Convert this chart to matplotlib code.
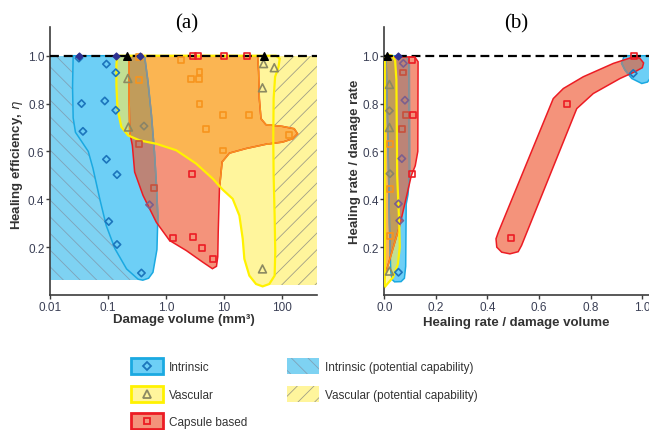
import numpy as np
import matplotlib.pyplot as plt
from matplotlib.patches import Polygon, Rectangle, Patch
from matplotlib.lines import Line2D
from matplotlib.path import Path
from matplotlib.legend_handler import HandlerLine2D

plt.rcParams['font.family'] = ['Liberation Sans', 'DejaVu Sans']
plt.rcParams['hatch.linewidth'] = 0.6

# ---------------- panel (a): damage volume (mm^3) vs healing efficiency
intr_a_x = [0.0251, 0.427, 0.490, 0.562, 0.631, 0.681, 0.724, 0.698, 0.596, 0.501, 0.398,
            0.331, 0.209, 0.132, 0.0933, 0.0724, 0.0550, 0.0457, 0.0355, 0.0275, 0.0251, 0.0245]
intr_a_y = [1.0, 1.0, 0.89, 0.75, 0.60, 0.47, 0.33, 0.19, 0.095, 0.07, 0.062,
            0.066, 0.109, 0.193, 0.29, 0.40, 0.53, 0.60, 0.64, 0.68, 0.74, 0.87]

caps_a_x = [0.231, 0.231, 0.237, 0.263, 0.288, 0.402, 0.681, 1.15, 2.23, 4.32, 6.31, 7.41, 7.80,
            7.94, 8.34, 9.27, 12.4, 23.9, 52.8, 102, 152, 185, 162, 100, 52.8, 43.4, 40.6, 39.5, 38.0]
caps_a_y = [1.0, 0.82, 0.68, 0.625, 0.514, 0.416, 0.304, 0.228, 0.186, 0.137, 0.11, 0.12, 0.16,
            0.262, 0.444, 0.556, 0.593, 0.612, 0.630, 0.639, 0.653, 0.674, 0.695, 0.705, 0.712,
            0.737, 0.821, 0.933, 1.0]

vasc_a_x = [0.1435, 0.1396, 0.1396, 0.1455, 0.170, 0.222, 0.352, 0.681, 1.50, 3.31, 6.40, 9.51,
            14.1, 18.4, 21.0, 22.4, 27.3, 35.6, 46.3, 60.3, 74.5, 76.4, 74.5, 71.6, 70.6, 71.6,
            75.9, 87.1, 91.2, 78.5]
vasc_a_y = [1.0, 0.961, 0.877, 0.779, 0.702, 0.667, 0.646, 0.632, 0.605, 0.549, 0.486, 0.440,
            0.402, 0.332, 0.235, 0.151, 0.081, 0.046, 0.036, 0.046, 0.081, 0.179, 0.332, 0.500,
            0.653, 0.821, 0.912, 0.954, 0.988, 1.0]

intr_pot_a = (0.01, 0.35, 0.063, 1.0)   # x0, x1, y0, y1
vasc_pot_a = (55, 400, 0.042, 1.0)

diam_a_x = [0.0315, 0.094, 0.136, 0.035, 0.088, 0.136, 0.037, 0.094, 0.143, 0.52, 0.103, 0.143, 0.377, 0.417]
diam_a_y = [0.99, 0.965, 0.929, 0.80, 0.811, 0.772, 0.684, 0.567, 0.503, 0.377, 0.307, 0.211, 0.092, 0.706]
sq_a_x = [0.34, 0.34, 0.34, 0.62, 1.83, 3.78, 2.72, 3.67, 3.78, 9.5, 26.6, 4.92, 9.5, 133, 2.83,
          1.31, 2.90, 4.2, 6.4]
sq_a_y = [0.995, 0.898, 0.632, 0.447, 0.981, 0.933, 0.902, 0.902, 0.800, 0.751, 0.751, 0.695,
          0.604, 0.670, 0.505, 0.237, 0.244, 0.196, 0.151]
tri_a_x = [0.22, 0.225, 48, 73.5, 46, 46]
tri_a_y = [0.905, 0.702, 0.967, 0.950, 0.866, 0.109]
top_diam_a = [0.0315, 0.136, 0.35]
top_tri_a = [0.215, 49]
top_sq_a = [2.9, 3.5, 10, 25]

# ---------------- panel (b): healing rate / damage volume vs healing rate / damage rate
intr_b_x = [0.005, 0.085, 0.097, 0.098, 0.092, 0.085, 0.083, 0.078, 0.065, 0.04, 0.03, 0.025, 0.02, 0.015, 0.008]
intr_b_y = [1.0, 1.0, 0.975, 0.5, 0.42, 0.38, 0.12, 0.07, 0.056, 0.055, 0.065, 0.1, 0.3, 0.6, 0.95]
blob_b_x = [0.93, 1.04, 1.04, 1.02, 0.998, 0.959, 0.933, 0.92]
blob_b_y = [1.0, 1.0, 0.92, 0.89, 0.884, 0.905, 0.94, 0.968]

vasc_b_x = [0.002, 0.002, 0.012, 0.03, 0.042, 0.047, 0.05, 0.058, 0.06, 0.053, 0.034, 0.015, 0.004]
vasc_b_y = [0.04, 0.99, 1.005, 1.0, 0.98, 0.9, 0.5, 0.3, 0.2, 0.13, 0.074, 0.05, 0.036]

caps_b_x = [0.002, 0.118, 0.131, 0.13, 0.12, 0.105, 0.06, 0.027, 0.008, 0.002]
caps_b_y = [0.995, 0.995, 0.975, 0.6, 0.54, 0.5, 0.29, 0.17, 0.1, 0.07]
band_b_x = [0.436, 0.433, 0.442, 0.655, 0.694, 0.771, 0.888, 0.965, 0.99, 1.005, 1.0, 0.975,
            0.914, 0.81, 0.746, 0.532, 0.519, 0.487, 0.455]
band_b_y = [0.20, 0.235, 0.262, 0.821, 0.863, 0.912, 0.968, 0.995, 0.99, 0.97, 0.95, 0.935,
            0.905, 0.842, 0.779, 0.207, 0.181, 0.172, 0.179]

diam_b_x = [0.074, 0.08, 0.068, 0.055, 0.06, 0.055, 0.965, 0.02, 0.022]
diam_b_y = [0.968, 0.814, 0.57, 0.381, 0.311, 0.095, 0.926, 0.77, 0.507]
sq_b_x = [0.071, 0.084, 0.11, 0.068, 0.106, 0.106, 0.49, 0.707, 0.022, 0.022, 0.022]
sq_b_y = [0.93, 0.754, 0.751, 0.695, 0.507, 0.984, 0.24, 0.80, 0.632, 0.444, 0.248]
tri_b_x = [0.02, 0.02, 0.02]
tri_b_y = [0.88, 0.70, 0.10]
top_diam_b = [0.055]
top_tri_b = [0.01]
top_sq_b = [0.967]

# colours
BLUE, BLUE_EDGE = '#6dcff6', '#1ba9e1'
YELLOW, YELLOW_EDGE = '#fff59c', '#fff200'
SALMON, RED_EDGE = '#f4937b', '#ec1c24'
ORANGE, ORANGE_EDGE = '#fbb552', '#f7941d'
GREEN = '#c2df93'
OVERLAY = '#3c6470'
DIAM_C, TRI_C = '#1c75bc', '#8c8a62'
HATCH_BLUE, HATCH_BLUE_LINE = '#7ed2f2', '#7fa3b8'
HATCH_YEL_LINE = '#a09f86'


def fill(ax, xs, ys, z, clip=None, **kw):
    p = Polygon(np.column_stack([xs, ys]), closed=True, zorder=z, **kw)
    ax.add_patch(p)
    if clip is not None:
        p.set_clip_path(clip)
    return p


def shape(ax, xs, ys):
    p = Polygon(np.column_stack([xs, ys]), closed=True)
    p.set_transform(ax.transData)
    return p


def rect_xy(r):
    x0, x1, y0, y1 = r
    return [x0, x1, x1, x0], [y0, y0, y1, y1]


def hit(px, py, regions, logx):
    pts = np.column_stack([np.log10(px) if logx else px, py])
    out = np.zeros(len(pts), bool)
    for xs, ys in regions:
        vx = np.log10(xs) if logx else np.asarray(xs)
        out |= Path(np.column_stack([vx, ys])).contains_points(pts)
    return out


def draw_regions(ax, blues, yellows, reds, yellow_extra=()):
    yclips = [shape(ax, *r) for r in list(yellows) + list(yellow_extra)]
    rclips = [shape(ax, *r) for r in reds]
    for b in blues:
        fill(ax, *b, z=2, fc=BLUE, lw=0)
    for y in yellows:
        fill(ax, *y, z=3, fc=YELLOW, lw=0)
    for b in blues:
        for c in yclips:
            fill(ax, *b, z=3.5, fc=GREEN, lw=0, clip=c)
    for r in reds:
        fill(ax, *r, z=4, fc=SALMON, lw=0)
        for c in yclips:
            fill(ax, *r, z=4.5, fc=ORANGE, lw=0, clip=c)
    for b in blues:
        for c in rclips:
            fill(ax, *b, z=5, fc=OVERLAY, alpha=0.3, lw=0, clip=c)
    for b in blues:
        fill(ax, *b, z=6, fill=False, ec=BLUE_EDGE, lw=1.1)
        for c in rclips:
            fill(ax, *b, z=6.1, fill=False, ec='#8f8f8f', lw=1.1, clip=c)
    for r in reds:
        fill(ax, *r, z=6.5, fill=False, ec=RED_EDGE, lw=1.1)
        for c in yclips:
            fill(ax, *r, z=6.6, fill=False, ec=ORANGE_EDGE, lw=1.1, clip=c)
    for y in yellows:
        fill(ax, *y, z=7, fill=False, ec=YELLOW_EDGE, lw=1.6)


def draw_markers(ax, dx, dy, sx, sy, tx, ty, blues, yellows, reds, logx):
    dx, dy, sx, sy = map(np.asarray, (dx, dy, sx, sy))
    dy_in = hit(dx, dy, yellows, logx)
    dr_in = hit(dx, dy, reds, logx)
    dcol = np.where(dy_in, '#8a8468', np.where(dr_in, '#7b5f8e', DIAM_C))
    sy_in = hit(sx, sy, yellows, logx)
    sb_in = hit(sx, sy, blues, logx)
    scol = np.where(sy_in, ORANGE_EDGE, np.where(sb_in, '#c8503c', RED_EDGE))
    ax.scatter(dx, dy, marker='D', s=14, facecolors='none', edgecolors=dcol, linewidths=1.2, zorder=9)
    ax.scatter(sx, sy, marker='s', s=18, facecolors='none', edgecolors=scol, linewidths=1.2, zorder=9)
    ax.scatter(tx, ty, marker='^', s=32, facecolors='none', edgecolors=TRI_C, linewidths=1.2, zorder=9)


def draw_top(ax, d, t, s):
    ax.scatter(d, [1.0] * len(d), marker='D', s=12, color='#2e3192', zorder=10)
    ax.scatter(t, [1.0] * len(t), marker='^', s=30, color='black', zorder=10)
    ax.scatter(s, [1.0] * len(s), marker='s', s=18, facecolors='none', edgecolors=RED_EDGE,
               linewidths=1.2, zorder=10)


def style(ax):
    for side in ['top', 'right']:
        ax.spines[side].set_visible(False)
    for side in ['left', 'bottom']:
        ax.spines[side].set_color('#3c3c3c')
        ax.spines[side].set_linewidth(1.2)
    ax.tick_params(direction='out', length=3, width=1, color='#3c3c3c',
                   labelcolor='#3a3f55', labelsize=8.5, pad=1)
    ax.set_ylim(0, 1.12)
    ax.set_yticks([0.2, 0.4, 0.6, 0.8, 1.0])
    ax.set_yticklabels(['0.2', '0.4', '0.6', '0.8', '1.0'])
    ax.axhline(1.0, color='black', lw=1.6, dashes=(4, 2.2), zorder=8)


class CenteredMarker(HandlerLine2D):
    # put the legend marker in the middle of the coloured box
    def create_artists(self, legend, orig_handle, xdescent, ydescent, width, height, fontsize, trans):
        arts = super().create_artists(legend, orig_handle, xdescent, ydescent,
                                      width, height, fontsize, trans)
        for a in arts:
            a.set_ydata(np.full(len(a.get_xdata()), height / 2 - ydescent))
        return arts


fig = plt.figure(figsize=(6.49, 4.31), dpi=100)
ax1 = fig.add_axes([0.0770, 0.3132, 0.4114, 0.6218])
ax2 = fig.add_axes([0.5921, 0.3132, 0.4079, 0.6218])

# ---- (a)
ax1.set_xscale('log')
ax1.set_xlim(0.01, 400)
style(ax1)
ax1.set_xticks([0.01, 0.1, 1, 10, 100])
ax1.set_xticklabels(['0.01', '0.1', '1.0', '10', '100'])
ax1.xaxis.set_minor_locator(plt.NullLocator())

x0, x1, y0, y1 = intr_pot_a
ax1.add_patch(Rectangle((x0, y0), x1 - x0, y1 - y0, fc=HATCH_BLUE, ec=HATCH_BLUE_LINE,
                        hatch='\\\\', lw=0, zorder=1))
x0, x1, y0, y1 = vasc_pot_a
ax1.add_patch(Rectangle((x0, y0), x1 - x0, y1 - y0, fc=YELLOW, ec=HATCH_YEL_LINE, hatch='//',
                        lw=0, zorder=1))

blues_a = [(intr_a_x, intr_a_y)]
yellows_a = [(vasc_a_x, vasc_a_y)]
reds_a = [(caps_a_x, caps_a_y)]
draw_regions(ax1, blues_a, yellows_a, reds_a, yellow_extra=[rect_xy(vasc_pot_a)])
draw_markers(ax1, diam_a_x, diam_a_y, sq_a_x, sq_a_y, tri_a_x, tri_a_y,
             blues_a, yellows_a + [rect_xy(vasc_pot_a)], reds_a, logx=True)
draw_top(ax1, top_diam_a, top_tri_a, top_sq_a)

ax1.set_xlabel('Damage volume (mm³)', fontsize=9.5, fontweight='bold', color='#333333')
ax1.set_ylabel('Healing efficiency, $\\eta$', fontsize=9.5, fontweight='bold', color='#333333')
ax1.xaxis.set_label_coords(0.5, -0.066)
ax1.yaxis.set_label_coords(-0.092, 0.489)

# ---- (b)
ax2.set_xlim(0, 1.026)
style(ax2)
ax2.set_xticks([0, 0.2, 0.4, 0.6, 0.8, 1.0])
ax2.set_xticklabels(['0.0', '0.2', '0.4', '0.6', '0.8', '1.0'])

blues_b = [(intr_b_x, intr_b_y), (blob_b_x, blob_b_y)]
yellows_b = [(vasc_b_x, vasc_b_y)]
reds_b = [(caps_b_x, caps_b_y), (band_b_x, band_b_y)]
draw_regions(ax2, blues_b, yellows_b, reds_b)
draw_markers(ax2, diam_b_x, diam_b_y, sq_b_x, sq_b_y, tri_b_x, tri_b_y,
             blues_b, yellows_b, reds_b, logx=False)
draw_top(ax2, top_diam_b, top_tri_b, top_sq_b)

ax2.set_xlabel('Healing rate / damage volume', fontsize=9.5, fontweight='bold', color='#333333')
ax2.set_ylabel('Healing rate / damage rate', fontsize=9.5, fontweight='bold', color='#333333')
ax2.xaxis.set_label_coords(0.5, -0.078)
ax2.yaxis.set_label_coords(-0.089, 0.5)

fig.text(187 / 649, 1 - 24 / 431, '(a)', ha='center', va='center', fontsize=15,
         family=['Liberation Serif', 'DejaVu Serif'])
fig.text(516 / 649, 1 - 24 / 431, '(b)', ha='center', va='center', fontsize=15,
         family=['Liberation Serif', 'DejaVu Serif'])

# ---- legend
handles = [
    (Patch(fc=BLUE, ec=BLUE_EDGE, lw=2),
     Line2D([], [], ls='', marker='D', ms=3.8, mfc='none', mec=DIAM_C, mew=1.3)),
    (Patch(fc=YELLOW, ec=YELLOW_EDGE, lw=2),
     Line2D([], [], ls='', marker='^', ms=5.5, mfc='none', mec=TRI_C, mew=1.3)),
    (Patch(fc=SALMON, ec=RED_EDGE, lw=2),
     Line2D([], [], ls='', marker='s', ms=4, mfc='none', mec=RED_EDGE, mew=1.3)),
    Patch(fc=HATCH_BLUE, ec=HATCH_BLUE_LINE, hatch='\\\\', lw=0),
    Patch(fc=YELLOW, ec=HATCH_YEL_LINE, hatch='//', lw=0),
]
labels = ['Intrinsic', 'Vascular', 'Capsule based',
          'Intrinsic (potential capability)', 'Vascular (potential capability)']
fig.legend(handles, labels, loc='upper left', bbox_to_anchor=(131 / 649, 1 - 359 / 431),
           ncol=2, frameon=False, fontsize=8.5, borderpad=0, borderaxespad=0,
           handlelength=2.7, handleheight=1.75, handletextpad=0.5, labelspacing=0.95,
           columnspacing=3.4, labelcolor='#333333', handler_map={Line2D: CenteredMarker()})

fig.savefig('out.png', dpi=100)
